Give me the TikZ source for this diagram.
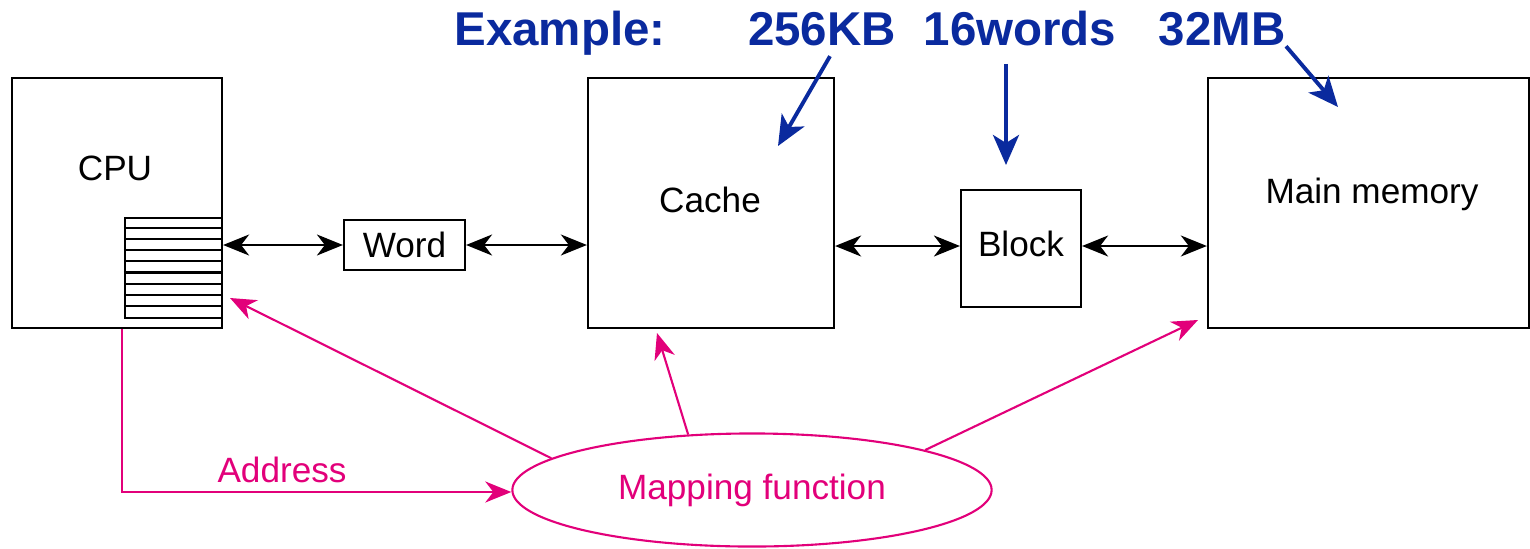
\documentclass[tikz,border=0pt]{standalone}
\usepackage{fontspec}
\setmainfont{Liberation Sans}
\usepackage{tikz}
\usetikzlibrary{arrows.meta,positioning,shapes.geometric,calc}
\definecolor{mapMagenta}{HTML}{E2007A}
\definecolor{exampleBlue}{HTML}{0A2A9E}
\tikzset{
  unit/.style={
    rectangle,
    draw=black,
    line width=0.6pt,
    inner sep=0pt,
    font=\fontsize{10}{12}\selectfont
  },
  boxlabel/.style={
    inner sep=0pt,
    font=\fontsize{10}{12}\selectfont
  },
  regline/.style={
    line width=0.6pt
  },
  dataArrow/.style={
    {Stealth[length=2.6mm,width=2.1mm,inset=0.8mm]}-{Stealth[length=2.6mm,width=2.1mm,inset=0.8mm]},
    line width=0.6pt
  },
  mapArrow/.style={
    -{Stealth[length=2.6mm,width=2.1mm,inset=0.8mm]},
    line width=0.6pt,
    draw=mapMagenta
  },
  exLabel/.style={
    text=exampleBlue,
    inner sep=0pt,
    anchor=base,
    font=\fontsize{13.5}{16}\selectfont\bfseries
  },
  exArrow/.style={
    -{Stealth[length=3mm,width=2.6mm,inset=0.8mm]},
    line width=1.1pt,
    draw=exampleBlue
  }
}

\begin{document}
\begin{tikzpicture}[x=0.01cm,y=-0.01cm]
  \useasboundingbox (0,0) rectangle (1530,548);
  % units
  \node[unit,minimum width=2.10cm,minimum height=2.50cm] (cpu) at (117,203) {};
  \node[boxlabel] (cpulbl) at (115,168) {CPU};
  \node[unit,minimum width=0.97cm,minimum height=1.00cm] (regs) at (173.5,268) {};
  \foreach \k in {1,...,8}
    \draw[regline] ($(regs.north west)+(0,\k*100/9)$) -- ++(97,0);
  \node[unit,minimum width=1.21cm,minimum height=0.50cm] (word) at (404.5,245) {Word};
  \node[unit,minimum width=2.46cm,minimum height=2.50cm] (cache) at (711,203) {};
  \node[boxlabel] (cachelbl) at (710,200) {Cache};
  \node[unit,minimum width=1.20cm,minimum height=1.17cm] (block) at (1021,248.5) {};
  \node[boxlabel] (blocklbl) at (1021,244) {Block};
  \node[unit,minimum width=3.21cm,minimum height=2.50cm] (main) at (1368.5,203) {};
  \node[boxlabel] (mainlbl) at (1372,194) {Main memory};
  \draw[dataArrow] (cpu.east |- word.west) -- (word.west);
  \draw[dataArrow] (word.east) -- (cache.west |- word.east);
  \draw[dataArrow] (cache.east |- 0,246) -- (block.west |- 0,246);
  \draw[dataArrow] (block.east |- 0,246) -- (main.west |- 0,246);

  % mapping function
  \node[ellipse,draw=mapMagenta,line width=0.6pt,inner sep=0pt,
        minimum width=4.79cm,minimum height=1.13cm,
        text=mapMagenta,font=\fontsize{10}{12}\selectfont] (map) at (752,490) {Mapping function};
  \coordinate (regTip) at (230,298);
  \coordinate (cacheTip) at (657,333);
  \coordinate (mainTip) at (1198,320);
  \coordinate (addr) at (122,492);
  \draw[mapArrow] (map.171.8) -- (regTip);
  \draw[mapArrow] (map.139) -- (cacheTip);
  \draw[mapArrow] (map.13) -- (mainTip);
  \draw[mapArrow] (cpu.south -| addr) -- (addr) -- (addr -| map.west);
  \node[boxlabel,text=mapMagenta] (addrlbl) at (282,470) {Address};

  % example sizes
  \node[exLabel] (example) at (560,45) {Example:};
  \node[exLabel] (kb) at (822,45) {256KB};
  \node[exLabel] (words) at (1020,45) {16words};
  \node[exLabel] (mb) at (1222,45) {32MB};
  \coordinate (kbTip) at (778,146);
  \coordinate (wordsTip) at (1006,165);
  \coordinate (mbTip) at (1338,107);
  \draw[exArrow] ($(kb.south)+(8,10)$) -- (kbTip);
  \draw[exArrow,shorten <=5pt] (words.south -| wordsTip) -- (wordsTip);
  \draw[exArrow] (mb.south east) -- (mbTip);
\end{tikzpicture}
\end{document}
